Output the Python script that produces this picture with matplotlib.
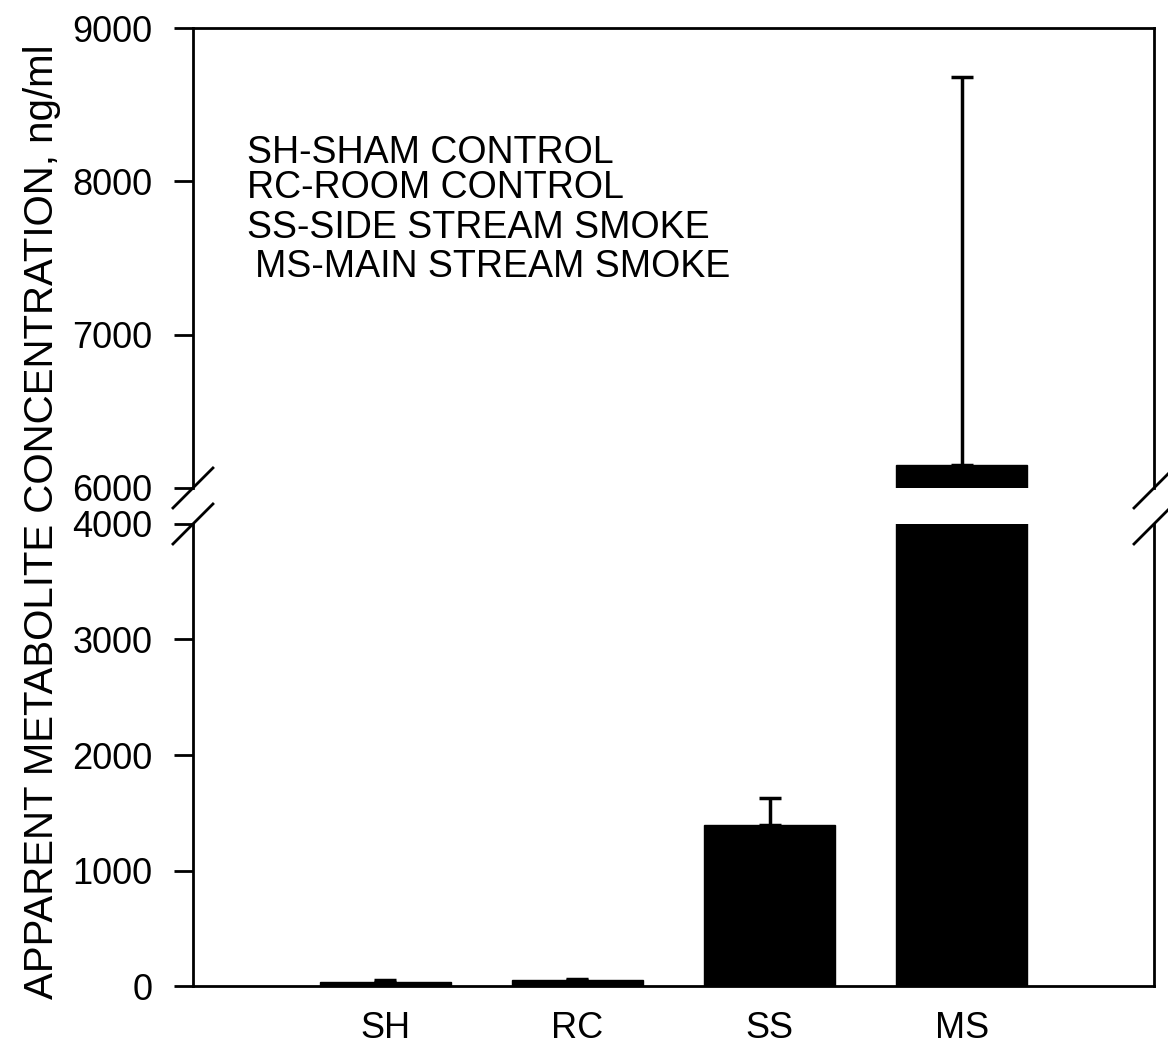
import matplotlib
matplotlib.use('Agg')
import matplotlib.pyplot as plt

plt.rcParams['font.family'] = ['Liberation Sans', 'DejaVu Sans']

# values (ng/ml)
groups = ['SH', 'RC', 'SS', 'MS']
means = [35, 50, 1390, 6150]
errs = [20, 15, 240, 2530]
legend_lines = ['SH-SHAM CONTROL', 'RC-ROOM CONTROL',
                'SS-SIDE STREAM SMOKE', 'MS-MAIN STREAM SMOKE']
low_ticks = [0, 1000, 2000, 3000, 4000]
high_ticks = [6000, 7000, 8000, 9000]

fig = plt.figure(figsize=(11.68, 10.53), dpi=100)
left, width = 0.1652, 0.8228
ax_hi = fig.add_axes([left, 0.5366, width, 0.4368])
ax_lo = fig.add_axes([left, 0.0636, width, 0.4388])

x = range(1, len(groups) + 1)
for ax in (ax_hi, ax_lo):
    ax.bar(x, means, width=0.68, color='black', edgecolor='black',
           yerr=[[0] * len(errs), errs], capsize=8,
           error_kw=dict(ecolor='black', elinewidth=2.5, capthick=2.5))
    ax.set_xlim(0, 5)
    for s in ax.spines.values():
        s.set_linewidth(2)
    ax.tick_params(axis='y', direction='out', length=14, width=2,
                   pad=15, labelsize=26, right=False)

ax_hi.set_ylim(6000, 9000)
ax_hi.set_yticks(high_ticks)
ax_hi.spines['bottom'].set_visible(False)
ax_hi.tick_params(axis='x', bottom=False, labelbottom=False)

ax_lo.set_ylim(0, 4000)
ax_lo.set_yticks(low_ticks)
ax_lo.spines['top'].set_visible(False)
ax_lo.set_xticks(list(x))
ax_lo.set_xticklabels(groups)
ax_lo.tick_params(axis='x', length=0, pad=18, labelsize=26)

# break marks on both spines
d = 0.0208
for ax, y0, dy in ((ax_hi, 0, 0.0435), (ax_lo, 1, 0.0433)):
    for x0 in (0, 1):
        ax.plot([x0 - d, x0 + d], [y0 - dy, y0 + dy], transform=ax.transAxes,
                color='black', lw=2, clip_on=False)

ypos = [0.728, 0.652, 0.565, 0.480]
xpos = [0.056, 0.056, 0.056, 0.0645]
for t, xx, yy in zip(legend_lines, xpos, ypos):
    ax_hi.text(xx, yy, t, transform=ax_hi.transAxes, fontsize=27,
               va='center', ha='left')

fig.text(0.036, 0.505, 'APPARENT METABOLITE CONCENTRATION, ng/ml',
         rotation=90, va='center', ha='center', fontsize=29)

fig.savefig('out.png', dpi=100)
